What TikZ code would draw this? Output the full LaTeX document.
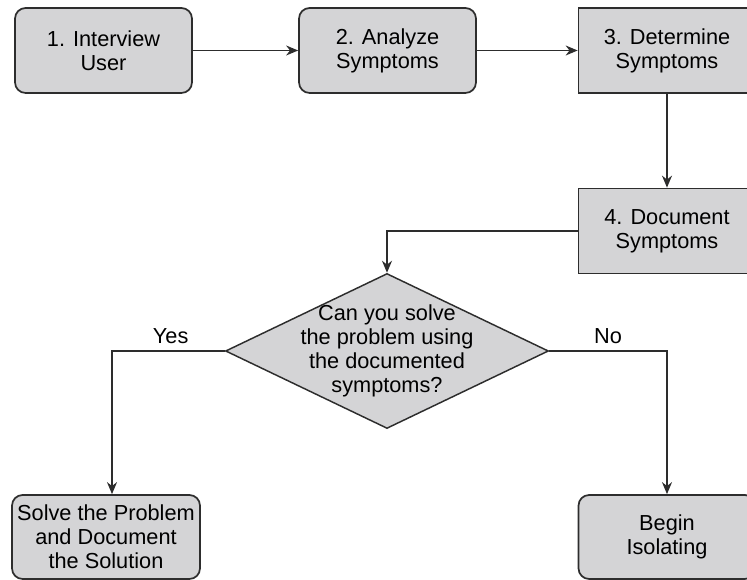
\documentclass[tikz,border=0pt]{standalone}
\usepackage{fontspec}
\setmainfont{Liberation Sans}
\usepackage{tikz}
\usetikzlibrary{arrows.meta,positioning,shapes.geometric}
\definecolor{boxgray}{RGB}{212,212,214}
\definecolor{linegray}{RGB}{45,45,45}

\begin{document}
\begin{tikzpicture}[
  x=0.75pt, y=-0.75pt,
  font=\fontsize{16.3}{18}\selectfont,
  box/.style={draw=linegray, line width=1.3pt, fill=boxgray, align=center,
    minimum width=132.75pt, minimum height=63.75pt, inner sep=2pt},
  roundbox/.style={box, rounded corners=8pt},
  decision/.style={diamond, draw=linegray, line width=1.1pt, fill=boxgray,
    inner sep=0pt, minimum width=242.25pt, minimum height=116.25pt},
  arrow/.style={-{Stealth[length=9pt,width=7.5pt]}, line width=1.2pt, draw=linegray},
  branch/.style={above, inner sep=4.5pt}
]
\useasboundingbox (0,0) rectangle (747,580);

\node[roundbox] (interview) at (103.5,50.5) {1. Interview\\User};
\node[roundbox] (analyze) at (387.5,50.5) {2. Analyze\\Symptoms};
\node[box] (determine) at (667,50.5) {3. Determine\\Symptoms};
\node[box] (document) at (667,231) {4. Document\\Symptoms};

\node[decision] (check) at (387,351) {};
\node[align=center] (question) at (check) {Can you solve\\the problem using\\the documented\\symptoms?};

\node[roundbox, minimum width=141pt, minimum height=63pt] (solve) at (106,537)
  {Solve the Problem\\and Document\\the Solution};
\node[roundbox, minimum height=63pt] (isolate) at (667,537) {Begin\\Isolating};

\draw[arrow] (interview) -- (analyze);
\draw[arrow] (analyze) -- (determine);
\draw[arrow] (determine) -- (document);
\draw[arrow] (document.west) -| (check.north);
\draw[arrow] (check.west) -| ([xshift=4.5pt]solve.north)
  node[branch, pos=0.24] (yes) {Yes};
\draw[arrow] (check.east) -| (isolate.north)
  node[branch, pos=0.25] (no) {No};
\end{tikzpicture}
\end{document}
